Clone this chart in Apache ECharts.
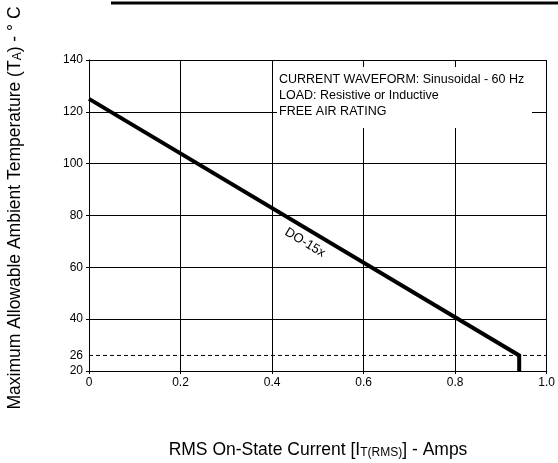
<!DOCTYPE html>
<html><head><meta charset="utf-8">
<script src="https://cdn.jsdelivr.net/npm/echarts@6/dist/echarts.min.js"></script>
<style>html,body{margin:0;padding:0;background:#fff}#c{width:558px;height:463px}</style>
</head><body><div id="c"></div>
<script>
// Data
const curvePoints = [[0, 125], [0.94, 26], [0.94, 20]];
const refLineValue = 26;
const yTickLabels = [20, 26, 40, 60, 80, 100, 120, 140];
const xTickLabels = [0, 0.2, 0.4, 0.6, 0.8, 1.0];
const seriesName = 'DO-15x';
const noteLines = ['CURRENT WAVEFORM: Sinusoidal - 60 Hz', 'LOAD: Resistive or Inductive', 'FREE AIR RATING'];

const FONT = 'Liberation Sans, Arial, sans-serif';
const chart = echarts.init(document.getElementById('c'), null, {renderer: 'canvas'});
const option = {
  animation: false,
  backgroundColor: '#fff',
  grid: {left: 89, right: 11, top: 60, bottom: 92, containLabel: false},
  xAxis: {
    type: 'value', min: 0, max: 1, interval: 0.2,
    axisLine: {show: true, lineStyle: {color: '#000', width: 1}},
    axisTick: {show: true, length: 3, lineStyle: {color: '#000'}},
    splitLine: {show: true, lineStyle: {color: '#000', width: 1}},
    axisLabel: {color: '#000', fontFamily: FONT, fontSize: 12, margin: 6,
      customValues: xTickLabels,
      formatter: v => (v === 1 ? '1.0' : (v === 0 ? '0' : v.toFixed(1)))}
  },
  yAxis: {
    type: 'value', min: 20, max: 140, interval: 20,
    axisLine: {show: true, lineStyle: {color: '#000', width: 1}},
    axisTick: {show: true, length: 3, lineStyle: {color: '#000'}},
    splitLine: {show: true, lineStyle: {color: '#000', width: 1}},
    axisLabel: {color: '#000', fontFamily: FONT, fontSize: 12, margin: 6,
      customValues: yTickLabels}
  },
  series: [
    {
      type: 'line', name: 'ref', data: [[0, refLineValue], [1, refLineValue]],
      symbol: 'none', silent: true,
      lineStyle: {color: '#000', width: 1, type: [4, 3]}, z: 2
    },
    {
      type: 'line', name: seriesName, data: curvePoints, symbol: 'none',
      lineStyle: {color: '#000', width: 4, cap: 'butt', join: 'miter'}, z: 5
    }
  ]
};
chart.setOption(option);

const lbl = chart.convertToPixel({gridIndex: 0}, [0.472, 69.5]);
const p0 = chart.convertToPixel({gridIndex: 0}, curvePoints[0]);
const p1 = chart.convertToPixel({gridIndex: 0}, curvePoints[1]);
const ang = Math.atan2(p1[1] - p0[1], p1[0] - p0[0]);

chart.setOption({
  graphic: [
    {type: 'rect', shape: {x: 277, y: 67, width: 255, height: 61}, style: {fill: '#fff'}, z: 3},
    {type: 'text', x: 279, y: 72, z: 4,
      style: {text: noteLines.join('\n'), fill: '#000', font: '12.5px ' + FONT, lineHeight: 16}},
    {type: 'text', x: lbl[0], y: lbl[1], rotation: -ang, z: 6,
      style: {text: seriesName, fill: '#000', font: '13px ' + FONT, align: 'center', verticalAlign: 'middle'}},
    {type: 'line', shape: {x1: 111, y1: 3, x2: 558, y2: 3}, style: {stroke: '#000', lineWidth: 3}},
    {type: 'text', x: 318, y: 450, z: 4,
      style: {
        text: '{n|RMS On-State Current [I}{s|T(RMS)}{n|] - Amps}',
        align: 'center', verticalAlign: 'middle',
        rich: {n: {fontSize: 17.5, fontFamily: FONT, fill: '#000'},
               s: {fontSize: 12, fontFamily: FONT, fill: '#000', padding: [5, 0, 0, 0]}}
      }},
    {type: 'text', x: 15, y: 208, rotation: Math.PI / 2, z: 4,
      style: {
        text: '{n|Maximum Allowable Ambient Temperature (T}{s|A}{n|) - ° C}',
        align: 'center', verticalAlign: 'middle',
        rich: {n: {fontSize: 17.5, fontFamily: FONT, fill: '#000'},
               s: {fontSize: 12, fontFamily: FONT, fill: '#000', padding: [5, 0, 0, 0]}}
      }}
  ]
});
</script></body></html>
